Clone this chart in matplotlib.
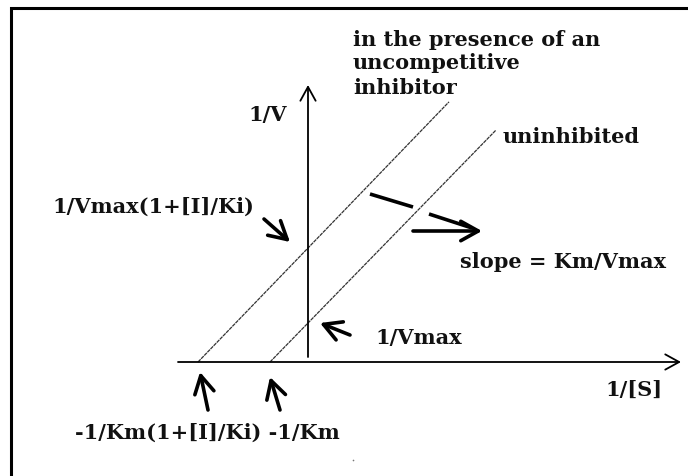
import matplotlib
matplotlib.use("Agg")
import matplotlib.pyplot as plt
import numpy as np
from matplotlib.patches import ArrowStyle

# ---- data (schematic Lineweaver-Burk units) ----
series_names = ["uninhibited", "in the presence of an\nuncompetitive\ninhibitor"]
x_intercepts = [-3.8, -11.0]      # -1/Km , -1/Km(1+[I]/Ki)
y_intercepts = [3.9, 11.4]        # 1/Vmax , 1/Vmax(1+[I]/Ki)
x_line_end = [18.8, 14.1]         # extent of each drawn line along 1/[S]

axis_labels = {"x": "1/[S]", "y": "1/V"}

# ---- figure ----
W, H = 688, 476
fig = plt.figure(figsize=(W / 100, H / 100), dpi=100)
ax = fig.add_axes([0, 0, 1, 1])
ax.set_xlim(-30.8, 38.0)
ax.set_ylim(-11.4, 36.2)
ax.set_axis_off()

FONT = "DejaVu Serif"
TXT = dict(family=FONT, fontsize=15, fontweight="bold", color="#111111")

# page border (left and top only visible)
ax.plot([-29.7, -29.7, 40], [-20, 35.45, 35.45], color="black", lw=2.2,
        solid_joinstyle="miter", clip_on=False)

# axes with open arrow heads
head = ArrowStyle("->", head_length=1.0, head_width=0.55)
ax.annotate("", xy=(37.3, 0), xytext=(-13.0, 0),
            arrowprops=dict(arrowstyle=head, lw=1.3, color="black",
                            shrinkA=0, shrinkB=0, mutation_scale=10))
ax.annotate("", xy=(0, 27.7), xytext=(0, 0.5),
            arrowprops=dict(arrowstyle=head, lw=1.3, color="black",
                            shrinkA=0, shrinkB=0, mutation_scale=10))

# Lineweaver-Burk lines
for xi, yi, xe in zip(x_intercepts, y_intercepts, x_line_end):
    slope = -yi / xi
    xs = np.array([xi, xe])
    ax.plot(xs, yi + slope * (xs - 0), color="#333333", lw=0.9,
            linestyle=(0, (3, 0.6)))

# text labels
ax.text(4.5, 32.2, "in the presence of an", ha="left", va="center", **TXT)
ax.text(4.5, 29.9, "uncompetitive", ha="left", va="center", **TXT)
ax.text(4.5, 27.4, "inhibitor", ha="left", va="center", **TXT)
ax.text(19.5, 22.5, "uninhibited", ha="left", va="center", **TXT)
ax.text(-6.0, 24.7, axis_labels["y"], ha="left", va="center", **TXT)
ax.text(29.7, -2.8, axis_labels["x"], ha="left", va="center", **TXT)
ax.text(-25.6, 15.5, "1/Vmax(1+[I]/Ki)", ha="left", va="center", **TXT)
ax.text(15.2, 10.0, "slope = Km/Vmax", ha="left", va="center", **TXT)
ax.text(6.7, 2.4, "1/Vmax", ha="left", va="center", **TXT)
ax.text(-23.3, -7.1, "-1/Km(1+[I]/Ki) -1/Km", ha="left", va="center", **TXT)

# hand-drawn style pointer arrows
ptr = ArrowStyle("->", head_length=0.9, head_width=0.5)
def pointer(tip, tail):
    ax.annotate("", xy=tip, xytext=tail,
                arrowprops=dict(arrowstyle=ptr, lw=2.6, color="black",
                                shrinkA=0, shrinkB=0, mutation_scale=14))

pointer((-1.8, 12.0), (-4.4, 14.3))      # to 1/Vmax(1+[I]/Ki)
pointer((1.2, 3.9), (4.2, 2.7))          # to 1/Vmax
pointer((-10.8, -1.0), (-10.0, -4.8))    # to -1/Km(1+[I]/Ki)
pointer((-3.8, -1.5), (-2.8, -4.8))      # to -1/Km

# slope indicator
ax.plot([6.2, 10.5], [16.8, 15.5], color="black", lw=2.6, solid_capstyle="butt")
ax.plot([12.1, 16.4], [14.8, 13.4], color="black", lw=2.6, solid_capstyle="butt")
pointer((17.4, 13.1), (10.5, 13.1))

# tiny stray dot
ax.plot([4.5], [-9.8], marker="o", ms=1.2, color="#777777", mec="none")

fig.savefig("out.png", dpi=100, facecolor="white")
